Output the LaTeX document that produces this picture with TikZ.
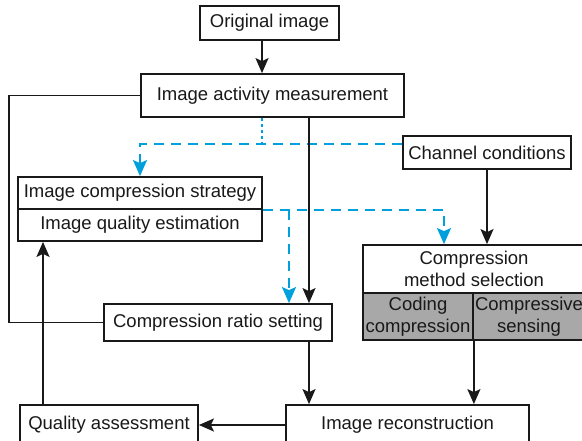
\documentclass[tikz,border=0pt]{standalone}
\usepackage{fontspec}
\setmainfont{Liberation Sans}
\usetikzlibrary{arrows.meta}
\definecolor{lineblue}{RGB}{0,160,220}
\definecolor{cellgrey}{RGB}{168,168,168}
\definecolor{ink}{RGB}{25,25,25}
\begin{document}
\begin{tikzpicture}[x=1pt,y=-1pt,
 box/.style={draw=ink, line width=1.8pt, inner sep=0pt, align=center, text=ink, font=\fontsize{18.5}{21.5}\selectfont},
 conn/.style={ink, line width=1.6pt},
 arr/.style={conn,-{Stealth[length=15pt,width=13pt,inset=3pt]}},
 bdash/.style={lineblue, line width=2pt, dash pattern=on 10pt off 7pt},
 bdot/.style={lineblue, line width=2pt, dash pattern=on 3pt off 3pt},
 barr/.style={bdash,-{Stealth[length=16pt,width=14pt,inset=3pt]}}]
\useasboundingbox (0,0) rectangle (582,441);
\clip (0,0) rectangle (582,441);
\fill[white] (0,0) rectangle (582,441);
% nodes
\node[box, minimum width=139pt, minimum height=34pt] (orig) at (269.5,23) {Original image};
\node[box, minimum width=263pt, minimum height=43pt] (iam) at (272.5,95.5) {Image activity measurement};
\node[box, minimum width=168pt, minimum height=33pt] (cc) at (487,152.5) {Channel conditions};
\node[box, minimum width=244pt, minimum height=32pt] (icsA) at (140,193) {Image compression strategy};
\node[box, minimum width=244pt, minimum height=32pt] (icsB) at (140,225) {Image quality estimation};
\node[box, minimum width=222pt, minimum height=48pt] (cms) at (474,269) {Compression\\method selection};
\node[box, fill=cellgrey, minimum width=110pt, minimum height=47pt] (ccod) at (418,316.5) {Coding\\compression};
\node[box, fill=cellgrey, minimum width=112pt, minimum height=47pt] (ccs) at (529,316.5) {Compressive\\sensing};
\node[box, minimum width=228pt, minimum height=37pt] (crs) at (218,322.5) {Compression ratio setting};
\node[box, minimum width=178pt, minimum height=40pt] (qa) at (109,425) {Quality assessment};
\node[box, minimum width=243pt, minimum height=40pt] (ir) at (407.5,425) {Image reconstruction};
% helper coordinates
\coordinate (xa) at (262,0);
\coordinate (xb) at (309,0);
\coordinate (xl) at (9,0);
\coordinate (xc) at (140,0);
\coordinate (yc) at (0,144);
\coordinate (xd) at (289,0);
\coordinate (xe) at (444,0);
\coordinate (xf) at (43,0);
% blue connectors
\draw[bdot] (iam.south -| xa) -- (xa |- yc);
\draw[barr] (cc.west |- yc) -- (xc |- yc) -- (xc |- icsA.north);
\draw[barr] (icsA.south east) -- (icsA.south east -| xe) -- (xe |- cms.north);
\draw[barr] (icsA.south east -| xd) -- (xd |- crs.north);
% black connectors
\draw[arr] (orig.south -| xa) -- (iam.north -| xa);
\draw[conn] (iam.west) -- (iam.west -| xl) -- (xl |- crs.west) -- (crs.west);
\draw[arr] (iam.south -| xb) -- (crs.north -| xb);
\draw[arr] (cc.south) -- (cms.north -| cc.south);
\draw[arr] (crs.south -| xb) -- (ir.north -| xb);
\draw[arr] (ccod.south east) -- (ir.north -| ccod.south east);
\draw[arr] (ir.west) -- (qa.east);
\draw[arr] (qa.north -| xf) -- (xf |- icsB.south);
\end{tikzpicture}
\end{document}
